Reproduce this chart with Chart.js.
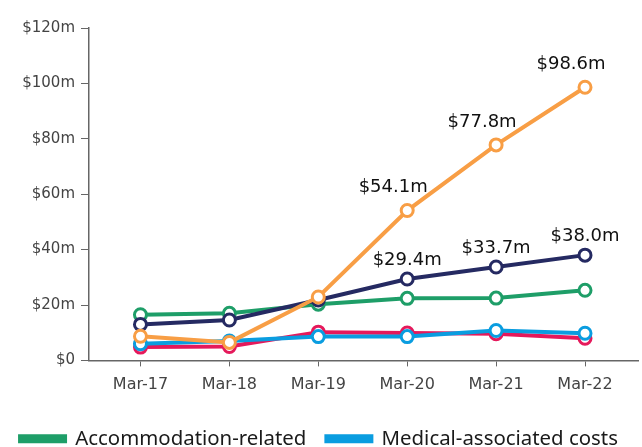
<!DOCTYPE html>
<html lang="en">
<head>
<meta charset="UTF-8">
<title>Costs by year</title>
<script src="https://cdn.jsdelivr.net/npm/chart.js@4/dist/chart.umd.min.js"></script>
<style>
    html, body { margin: 0; padding: 0; background: #fff; }
    .wrap { width: 642px; height: 447px; overflow: hidden; position: relative; }
    .wrap canvas { position: absolute; left: 0; top: 0; }
</style>
</head>
<body>
<div class="wrap">
    <canvas id="grafico" width="642" height="459"></canvas>
</div>
<script>
    // dados (milhoes de dolares)
    var anos = ['Mar-17', 'Mar-18', 'Mar-19', 'Mar-20', 'Mar-21', 'Mar-22']
    var acomodacao = [16.5, 17.0, 20.3, 22.4, 22.5, 25.3]
    var medico = [6.0, 7.0, 8.6, 8.6, 10.8, 9.8]
    var serieAzulEscuro = [13.0, 14.6, 21.8, 29.4, 33.7, 38.0]
    var serieLaranja = [8.7, 6.5, 22.9, 54.1, 77.8, 98.6]
    var serieVermelha = [4.8, 5.0, 10.2, 9.9, 9.6, 8.0]
    var ticksY = [0, 20, 40, 60, 80, 100, 120]
    var anosComRotulo = [3, 4, 5]

    function pontos(valores) {
        return valores.map((v, i) => ({ x: i, y: v }))
    }

    function serie(label, valores, cor, ordem, extra) {
        return Object.assign({
            label: label,
            data: pontos(valores),
            borderColor: cor,
            backgroundColor: cor,
            borderWidth: 4,
            pointRadius: 6,
            pointBorderWidth: 3,
            pointBackgroundColor: '#ffffff',
            pointBorderColor: cor,
            tension: 0,
            order: ordem
        }, extra || {})
    }

    // escreve os valores em cima dos pontos
    const rotulos = {
        id: 'rotulos',
        afterDatasetsDraw(chart) {
            const ctx = chart.ctx
            ctx.save()
            ctx.font = '18px "DejaVu Sans"'
            ctx.fillStyle = '#111111'
            ctx.textAlign = 'center'
            ctx.textBaseline = 'middle'
            chart.data.datasets.forEach((ds, d) => {
                if (!ds.rotulo) return
                const meta = chart.getDatasetMeta(d)
                anosComRotulo.forEach(i => {
                    const p = meta.data[i]
                    ctx.fillText('$' + ds.data[i].y.toFixed(1) + 'm', p.x + ds.rotulo.dx, p.y - ds.rotulo.dy)
                })
            })
            ctx.restore()
        }
    }

    const ctx = document.getElementById('grafico')

    var grafico = new Chart(ctx, {
        type: 'line',
        data: {
            datasets: [
                serie('Accommodation-related', acomodacao, '#1e9e68', 3),
                serie('Medical-associated costs', medico, '#0a9de0', 1),
                serie('Series 3', serieAzulEscuro, '#252a62', 2, { rotulo: { dx: 0, dy: 19 } }),
                serie('Series 4', serieLaranja, '#f89e45', 0, { rotulo: { dx: -14, dy: 23 } }),
                serie('Series 5', serieVermelha, '#e5195b', 4)
            ]
        },
        options: {
            responsive: false,
            animation: false,
            layout: { autoPadding: false, padding: { top: 28, right: 4, left: 0, bottom: 0 } },
            plugins: {
                tooltip: { enabled: false },
                legend: {
                    position: 'bottom',
                    labels: {
                        filter: (item) => item.datasetIndex < 2,
                        sort: (a, b) => a.datasetIndex - b.datasetIndex,
                        boxWidth: 45,
                        boxHeight: 5,
                        padding: 20,
                        color: '#1a1a1a',
                        font: { family: '"Noto Sans"', size: 20.4 }
                    }
                }
            },
            scales: {
                x: {
                    type: 'linear',
                    min: -0.579,
                    max: 5.596,
                    afterBuildTicks: (scale) => {
                        scale.ticks = anos.map((a, i) => ({ value: i }))
                    },
                    afterFit: (scale) => {
                        scale.paddingLeft = 0
                        scale.paddingRight = 0
                        scale.height += 5
                    },
                    ticks: {
                        autoSkip: false,
                        maxRotation: 0,
                        padding: 9,
                        color: '#444444',
                        font: { family: '"DejaVu Sans"', size: 16 },
                        callback: (v) => anos[v]
                    },
                    grid: {
                        drawOnChartArea: false,
                        drawTicks: true,
                        tickLength: 6,
                        color: '#666666'
                    },
                    border: { color: '#666666', width: 1.5 }
                },
                y: {
                    min: 0,
                    max: 120,
                    afterFit: (scale) => { scale.width = 89 },
                    afterBuildTicks: (scale) => {
                        scale.ticks = ticksY.map(v => ({ value: v }))
                    },
                    ticks: {
                        padding: 6,
                        color: '#444444',
                        font: { family: '"DejaVu Sans"', size: 15 },
                        callback: (v) => v == 0 ? '$0' : '$' + v + 'm'
                    },
                    grid: {
                        drawOnChartArea: false,
                        drawTicks: true,
                        tickLength: 8,
                        color: '#666666'
                    },
                    border: { color: '#666666', width: 1.5 }
                }
            }
        },
        plugins: [rotulos]
    });
</script>
</body>
</html>
